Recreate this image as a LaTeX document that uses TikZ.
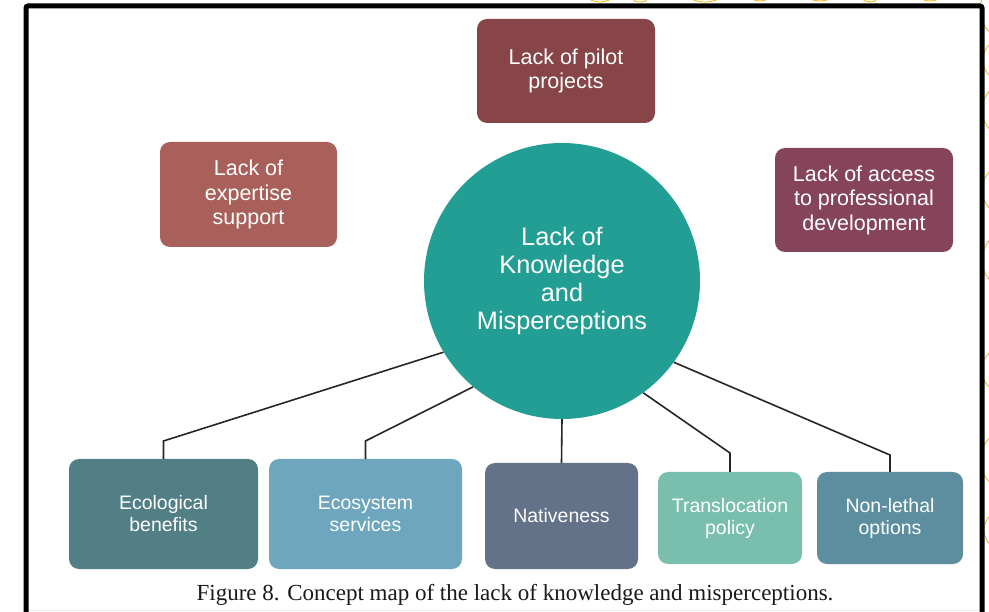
\documentclass[tikz,border=0pt]{standalone}
\usepackage{fontspec}
\setmainfont{Liberation Serif}
\newfontfamily\boxfont{Liberation Sans}
\definecolor{cPilot}{HTML}{874547}
\definecolor{cExpert}{HTML}{A9605A}
\definecolor{cAccess}{HTML}{85445A}
\definecolor{cCore}{HTML}{239E94}
\definecolor{cEco}{HTML}{517F85}
\definecolor{cSys}{HTML}{6DA6BD}
\definecolor{cNat}{HTML}{637189}
\definecolor{cTrans}{HTML}{7ABFAE}
\definecolor{cNon}{HTML}{5C8E9F}
\definecolor{cDeco}{HTML}{F2B20C}
\tikzset{
  topbox/.style={rectangle, rounded corners=10pt, inner sep=0pt, text=white,
    align=center, font=\boxfont\fontsize{21.5}{24.5}\selectfont},
  lowbox/.style={rectangle, rounded corners=10pt, inner sep=0pt, text=white,
    align=center, font=\boxfont\fontsize{19.5}{22}\selectfont},
  link/.style={draw=black!85, line width=1.6pt, line join=miter},
  deco/.style={draw=cDeco, line width=0.8pt},
}
\begin{document}
\begin{tikzpicture}[x=1pt,y=-1pt]
\useasboundingbox (0,0) rectangle (989,612);
\clip (0,0) rectangle (989,612);
\fill[white] (0,0) rectangle (989,612);
% decorative background fragments outside the frame
\begin{scope}
\clip (480,0) rectangle (989,4) (984,0) rectangle (989,612);
\draw[deco] (600,-20) circle (22);
\draw[deco] (640,-12) circle (14);
\draw[deco] (705,-30) circle (32);
\draw[deco] (760,-15) circle (16);
\draw[deco] (820,-25) circle (26);
\draw[deco] (870,-10) circle (12);
\draw[deco] (930,-20) circle (21);
\draw[deco] (1010,10) circle (30);
\draw[deco] (1005,60) circle (22);
\draw[deco] (1010,110) circle (28);
\draw[deco] (1008,190) circle (26);
\draw[deco] (1012,260) circle (30);
\draw[deco] (1006,370) circle (24);
\draw[deco] (1010,460) circle (30);
\draw[deco] (1004,530) circle (20);
\end{scope}
% frame
\draw[black, line width=5pt, rounded corners=2pt] (26,640) -- (26,6) -- (982,6) -- (982,640);
\draw[black!8, line width=1pt] (29,610) -- (979,610);
% nodes
\node[topbox, fill=cPilot, minimum width=178pt, minimum height=104pt] (pilot) at (566,71) {Lack of pilot\\projects};
\node[topbox, fill=cExpert, minimum width=177pt, minimum height=105pt] (expert) at (248.5,194.5) {Lack of\\expertise\\support};
\node[topbox, fill=cAccess, minimum width=178pt, minimum height=104pt] (access) at (864,200) {Lack of access\\to professional\\development};
\node[circle, fill=cCore, minimum size=276pt, inner sep=0pt, text=white, align=center,
  font=\boxfont\fontsize{25.3}{28}\selectfont] (core) at (562,281) {Lack of\\Knowledge\\and\\Misperceptions};
\node[lowbox, fill=cEco, minimum width=189pt, minimum height=110pt] (eco) at (163.5,514) {Ecological\\benefits};
\node[lowbox, fill=cSys, minimum width=193pt, minimum height=110pt] (sys) at (365.5,514) {Ecosystem\\services};
\node[lowbox, fill=cNat, minimum width=153pt, minimum height=106pt] (nat) at (561.5,516) {Nativeness};
\node[lowbox, fill=cTrans, minimum width=144pt, minimum height=92pt] (trans) at (730,518) {Translocation\\policy};
\node[lowbox, fill=cNon, minimum width=146pt, minimum height=92pt] (non) at (890,518) {Non-lethal\\options};
% elbows
\coordinate (k1) at (163.5,441);
\coordinate (k2) at (365.5,441);
\coordinate (k4) at (730,453);
\coordinate (k5) at (890,455);
% connectors
\draw[link] (core.211) -- (k1) -- (eco.north);
\draw[link] (core.230) -- (k2) -- (sys.north);
\draw[link] (core.270) -- (nat.north);
\draw[link] (core.306) -- (k4) -- (trans.north);
\draw[link] (core.324) -- (k5) -- (non.north);
% caption
\node[font=\fontsize{23}{26}\selectfont, text=black!90, inner sep=0pt, anchor=base] (cap) at (515,600)
  {Figure 8. Concept map of the lack of knowledge and misperceptions.};
\end{tikzpicture}
\end{document}
